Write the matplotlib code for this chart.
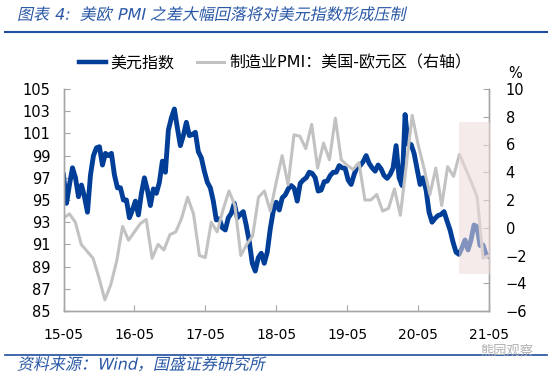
import matplotlib
matplotlib.use("Agg")
import matplotlib.pyplot as plt
import numpy as np
from matplotlib.lines import Line2D
from matplotlib.patches import Rectangle
from matplotlib.patheffects import AbstractPathEffect
from matplotlib.transforms import Affine2D

plt.rcParams["font.family"] = ["DejaVu Sans", "Noto Sans CJK SC"]

# 美元指数 (left axis) at even steps from 2015-05 to 2021-05
dxy = [
    97.25, 94.7, 96.4, 97.9, 97.0, 95.3, 96.35, 95.3, 93.9, 97.25,
    99.0, 99.7, 99.8, 98.15, 99.2, 99.0, 99.2, 97.25, 96.1, 96.1,
    95.0, 95.0, 93.4, 94.1, 94.9, 93.65, 95.6, 97.0, 95.9, 94.5,
    96.0, 95.6, 96.6, 98.5, 97.5, 101.3, 102.4, 103.2, 101.5, 99.9,
    100.8, 102.0, 100.8, 100.9, 101.1, 99.35, 98.8, 97.6, 96.6, 96.1,
    94.9, 93.2, 93.3, 92.5, 92.3, 93.4, 93.8, 94.7, 93.4, 93.7,
    93.95, 92.7, 91.25, 89.3, 88.6, 89.8, 90.2, 89.3, 90.3, 92.4,
    94.0, 94.8, 94.1, 95.2, 95.45, 96.0, 96.3, 96.05, 94.9, 96.5,
    96.8, 97.0, 97.5, 97.4, 97.0, 95.8, 95.9, 96.65, 96.7, 97.2,
    97.5, 97.5, 98.1, 97.9, 97.85, 96.8, 96.4, 97.3, 98.0, 98.1,
    98.45, 99.0, 98.3, 97.9, 97.6, 98.15, 97.8, 97.2, 96.95, 97.3,
    97.9, 99.9, 97.0, 96.3, 102.7, 100.0, 100.0, 99.2, 97.8, 96.4,
    97.0, 95.9, 93.9, 93.0, 93.35, 93.6, 93.7, 93.95, 93.1, 92.3,
    91.2, 90.3, 90.1, 90.7, 91.4, 90.5, 91.4, 92.75, 92.6, 90.9,
    90.95, 90.1, 89.9,
]

# 制造业PMI：美国-欧元区 (right axis), monthly 2015-05 .. 2021-05
pmi_gap = [
    0.7, 1.0, 0.4, -1.2, -1.7, -2.2, -3.6, -5.2, -4.1, -2.4,
    0.1, -0.9, -0.3, 0.3, 0.6, -2.2, -1.2, -1.6, -0.5, -0.3,
    0.7, 2.2, 1.0, -2.0, -2.15, 0.4, -0.3, 1.3, 2.65, 1.6,
    -2.0, -1.2, -0.6, 2.2, 2.65, 1.2, 3.3, 5.2, 3.1, 6.7,
    6.6, 5.7, 7.45, 4.3, 6.1, 4.9, 7.9, 4.9, 4.5, 4.2,
    4.7, 2.0, 2.0, 2.4, 1.2, 1.4, 2.8, 0.9, 4.5, 8.1,
    6.0, 4.3, 2.4, 4.3, 1.6, 4.4, 3.7, 5.3, 4.3, 3.3,
    2.2, -2.2, -2.0,
]

tick_labels = ["15-05", "16-05", "17-05", "18-05", "19-05", "20-05", "21-05"]
series_names = ["美元指数", "制造业PMI：美国-欧元区（右轴）"]

# highlighted window (months from 2015-05, right-axis values)
shade_x = (67, 72.4)
shade_y = (-3.3, 7.6)

BLUE = "#003e98"
GREY = "#c2c2c2"
AXIS = "#a6a6a6"
TITLE = "#2a58a6"


class Slant(AbstractPathEffect):
    # fake italic: shear glyph paths about the text baseline
    def __init__(self, deg=12):
        super().__init__()
        self.deg = deg

    def draw_path(self, renderer, gc, tpath, affine, rgbFace=None):
        m = affine.get_matrix()
        tx, ty = m[0, 2], m[1, 2]
        shear = Affine2D().translate(-tx, -ty).skew_deg(self.deg, 0).translate(tx, ty)
        renderer.draw_path(gc, tpath, affine + shear, rgbFace)


n_months = len(pmi_gap) - 1
x_pmi = np.arange(len(pmi_gap))
x_dxy = np.linspace(0, n_months, len(dxy))

fig = plt.figure(figsize=(5.5, 3.75), dpi=100)
ax = fig.add_axes([63.5 / 550, 1 - 311 / 375, 425.5 / 550, 222 / 375])
ax2 = ax.twinx()

ax.plot(x_dxy, dxy, color=BLUE, lw=3.5, solid_joinstyle="round")
ax2.plot(x_pmi, pmi_gap, color=GREY, lw=2.2)
ax2.add_patch(Rectangle((shade_x[0], shade_y[0]), shade_x[1] - shade_x[0],
                        shade_y[1] - shade_y[0], facecolor="#efdcdc",
                        alpha=0.55, lw=0, clip_on=False, zorder=5))

ax.set_xlim(0, n_months)
ax.set_ylim(85, 105)
ax.set_yticks(np.arange(85, 106, 2))
ax2.set_ylim(-6, 10)
ax2.set_yticks(np.arange(-6, 11, 2))
ax.set_xticks(np.arange(0, n_months + 1, 12))
ax.set_xticklabels(tick_labels)

for a in (ax, ax2):
    a.spines["top"].set_visible(False)
    for s in ("left", "right", "bottom"):
        a.spines[s].set_color(AXIS)
        a.spines[s].set_linewidth(1.0)
ax.tick_params(axis="x", direction="in", length=4, color=AXIS, labelsize=10, pad=12)
ax.tick_params(axis="y", direction="in", length=4, color=AXIS, labelsize=10.5, pad=9.5)
ax2.tick_params(axis="y", direction="in", length=4, color=AXIS, labelsize=10.5, pad=12)

handles = [Line2D([], [], color=BLUE, lw=3.2), Line2D([], [], color=GREY, lw=2.2)]
fig.legend(handles, series_names, loc="center", bbox_to_anchor=(0.50, 1 - 63 / 375),
           ncol=2, frameon=False, fontsize=11.5, handlelength=1.7,
           handletextpad=0.3, columnspacing=1.4)
fig.text(515 / 550, 1 - 73 / 375, "%", ha="center", va="center", fontsize=10.5)

fig.text(17 / 550, 1 - 15 / 375, "图表 4:  美欧 PMI 之差大幅回落将对美元指数形成压制",
         color=TITLE, fontsize=11.5, va="center", path_effects=[Slant()])
fig.add_artist(Line2D([5 / 550, 547 / 550], [1 - 32 / 375] * 2, color="#1f4e9e", lw=1.5))
fig.add_artist(Line2D([5 / 550, 547 / 550], [1 - 354.5 / 375] * 2, color="#1f4e9e", lw=1.2))
fig.text(17 / 550, 1 - 365 / 375, "资料来源：Wind，国盛证券研究所", color=TITLE,
         fontsize=11.5, va="center", path_effects=[Slant()])
fig.text(480 / 550, 1 - 351 / 375, "熊园观察", color="#b0b0b0", fontsize=9.5, va="center")

fig.savefig("out.png", dpi=100)
